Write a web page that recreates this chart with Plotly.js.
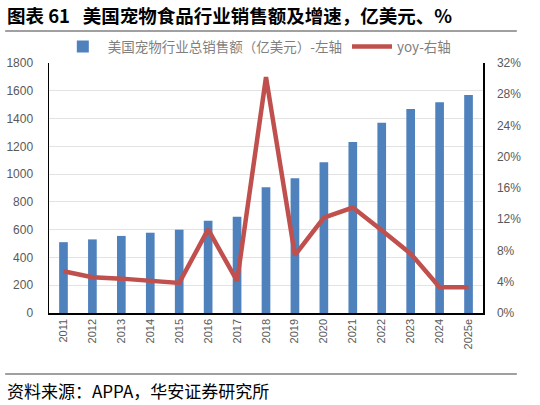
<!DOCTYPE html>
<html>
<head>
<meta charset="utf-8">
<script src="https://cdn.plot.ly/plotly-3.0.1.min.js"></script>
<style>
  body { margin: 0; background: #fff; }
  #chart { width: 540px; height: 405px; }
</style>
</head>
<body>
<div id="chart"></div>
<script>
// 年份
var years = ['2011', '2012', '2013', '2014', '2015', '2016', '2017', '2018',
             '2019', '2020', '2021', '2022', '2023', '2024', '2025e'];
// 美国宠物行业总销售额（亿美元）
var sales = [510, 530, 555, 578, 600, 665, 693, 905, 970, 1085, 1232, 1369, 1468, 1518, 1569];
// yoy
var yoy = [0.0535, 0.0458, 0.044, 0.0415, 0.0385, 0.107, 0.041, 0.302, 0.074, 0.122, 0.135, 0.106, 0.076, 0.033, 0.033];

var leftTicks = [0, 200, 400, 600, 800, 1000, 1200, 1400, 1600, 1800];
var rightTicks = [0, 0.04, 0.08, 0.12, 0.16, 0.20, 0.24, 0.28, 0.32];

var cjk = '"Noto Sans CJK SC", "Liberation Sans", sans-serif';
var latin = '"Liberation Sans", Arial, sans-serif';
var grey = '#595959';

var data = [
  {
    type: 'bar',
    name: '美国宠物行业总销售额（亿美元）-左轴',
    x: years,
    y: sales,
    width: 0.3,
    marker: { color: '#4F81BD' },
    hoverinfo: 'x+y'
  },
  {
    type: 'scatter',
    mode: 'lines',
    name: 'yoy-右轴',
    x: years,
    y: yoy,
    yaxis: 'y2',
    line: { color: '#C0504D', width: 4.5 },
    hoverinfo: 'x+y'
  }
];

var layout = {
  width: 540,
  height: 405,
  margin: { l: 49, r: 57, t: 63, b: 92 },
  paper_bgcolor: '#fff',
  plot_bgcolor: '#fff',
  showlegend: true,
  legend: {
    orientation: 'h',
    x: 0.48, xanchor: 'center',
    y: 1.065, yanchor: 'middle',
    font: { family: cjk, size: 13.5, color: '#7f7f7f' },
    itemwidth: 40,
    tracegroupgap: 0,
    bgcolor: 'rgba(0,0,0,0)'
  },
  xaxis: {
    type: 'category',
    tickangle: -90,
    tickfont: { family: latin, size: 11, color: grey },
    showline: true,
    linecolor: '#000',
    linewidth: 1.5,
    ticks: '',
    showgrid: false,
    fixedrange: true
  },
  yaxis: {
    range: [0, 1800],
    tickvals: leftTicks,
    tickfont: { family: latin, size: 12, color: grey },
    showline: true,
    linecolor: '#000',
    linewidth: 1.5,
    showgrid: true,
    gridcolor: '#e3e3e3',
    gridwidth: 1,
    zeroline: false,
    ticks: '',
    ticklabelstandoff: 12
  },
  yaxis2: {
    range: [0, 0.32],
    tickvals: rightTicks,
    tickformat: '.0%',
    overlaying: 'y',
    side: 'right',
    tickfont: { family: latin, size: 12, color: grey },
    showline: true,
    linecolor: '#000',
    linewidth: 1.5,
    showgrid: false,
    zeroline: false,
    ticks: '',
    ticklabelstandoff: 10
  },
  shapes: [
    { type: 'line', xref: 'paper', yref: 'paper', x0: -0.101, x1: 1.078, y0: 1.128, y1: 1.128,
      line: { color: '#808080', width: 1.5 } },
    { type: 'line', xref: 'paper', yref: 'paper', x0: -0.101, x1: 1.078, y0: -0.244, y1: -0.244,
      line: { color: '#808080', width: 1.5 } }
  ],
  annotations: [
    { xref: 'paper', yref: 'paper', x: -0.101, y: 1.192, xanchor: 'left', yanchor: 'middle',
      showarrow: false,
      text: '<b>图表 61\u00a0\u00a0 美国宠物食品行业销售额及增速，亿美元、%</b>',
      font: { family: cjk, size: 18.5, color: '#000' } },
    { xref: 'paper', yref: 'paper', x: -0.101, y: -0.31, xanchor: 'left', yanchor: 'middle',
      showarrow: false,
      text: '资料来源：APPA，华安证券研究所',
      font: { family: cjk, size: 17, color: '#000' } }
  ]
};

Plotly.newPlot('chart', data, layout, { displayModeBar: false, staticPlot: true });
</script>
</body>
</html>
